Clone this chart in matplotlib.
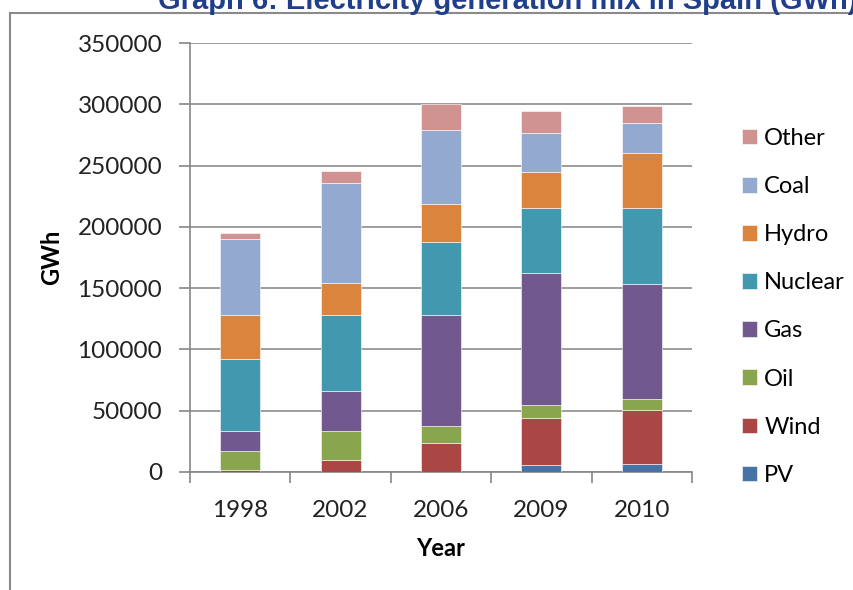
import numpy as np
import matplotlib.pyplot as plt
from matplotlib.lines import Line2D

years = ['1998', '2002', '2006', '2009', '2010']
sources = ['PV', 'Wind', 'Oil', 'Gas', 'Nuclear', 'Hydro', 'Coal', 'Other']
pv = [0, 0, 300, 5400, 6200]
wind = [1400, 9800, 23000, 38600, 44000]
oil = [15400, 23600, 14400, 10500, 9500]
gas = [16600, 32500, 90600, 107500, 93900]
nuclear = [58800, 62400, 59700, 53100, 61500]
hydro = [36100, 26300, 30400, 29300, 44800]
coal = [61600, 81400, 60500, 32300, 25200]
other = [5400, 9500, 21100, 17700, 13300]
colors = ['#4572A7', '#AA4643', '#89A54E', '#71588F', '#4198AF', '#DB843D', '#93A9CF', '#D19392']

series = [pv, wind, oil, gas, nuclear, hydro, coal, other]

plt.rcParams['font.family'] = ['Lato', 'DejaVu Sans']
fig = plt.figure(figsize=(8.54, 5.9), dpi=100)
ax = fig.add_axes([190 / 854, 1 - 472 / 590, 502 / 854, 429 / 590])

x = np.arange(len(years))
bottom = np.zeros(len(years))
handles = []
for name, vals, c in zip(sources, series, colors):
    b = ax.bar(x, vals, 0.4, bottom=bottom, color=c, edgecolor='white', linewidth=0.4, label=name, zorder=3)
    bottom += np.array(vals)
    handles.append(b)

ax.set_xlim(-0.5, len(years) - 0.5)
ax.set_ylim(0, 350000)
ax.set_yticks(np.arange(0, 350001, 50000))
ax.set_yticklabels([str(v) for v in range(0, 350001, 50000)])
ax.set_xticks(x)
ax.set_xticklabels(years)
ax.set_xticks(np.arange(-0.5, len(years), 1), minor=True)
ax.tick_params(axis='x', which='major', length=0, pad=20, labelsize=17.5, colors='#222222')
ax.tick_params(axis='x', which='minor', length=8, color='#868686', width=1.2)
ax.tick_params(axis='y', length=8, color='#868686', width=1.2, labelsize=17.5, pad=12, labelcolor='#222222')
ax.grid(axis='y', color='#8c8c8c', linewidth=1.2, zorder=0)
for s in ['top', 'right']:
    ax.spines[s].set_visible(False)
for s in ['left', 'bottom']:
    ax.spines[s].set_color('#868686')
    ax.spines[s].set_linewidth(1.2)

ax.set_xlabel('Year', fontsize=17, fontweight='bold', labelpad=12)
ax.set_ylabel('GWh', fontsize=17, fontweight='bold', labelpad=10)

leg = fig.legend(handles[::-1], sources[::-1], loc='upper left', bbox_to_anchor=(730 / 854, 1 - 116 / 590),
                 frameon=False, fontsize=17, handlelength=0.65, handleheight=0.65, handletextpad=0.3,
                 labelspacing=1.15, borderpad=0)

# outer frame of the original figure box
fig.add_artist(Line2D([10 / 854, 10 / 854], [0, 1 - 13 / 590], color='#8a8a8a', linewidth=1.5))
fig.add_artist(Line2D([10 / 854, 1], [1 - 13 / 590, 1 - 13 / 590], color='#8a8a8a', linewidth=1.5))

# title is cut by the top edge in the original
fig.text(158 / 854, 1 - 9 / 590, 'Graph 6: Electricity generation mix in Spain (GWh)', ha='left', va='baseline',
         fontsize=21, fontweight='bold', color='#1F3E8C', family=['Liberation Sans', 'DejaVu Sans'])

fig.savefig('out.png', dpi=100)
